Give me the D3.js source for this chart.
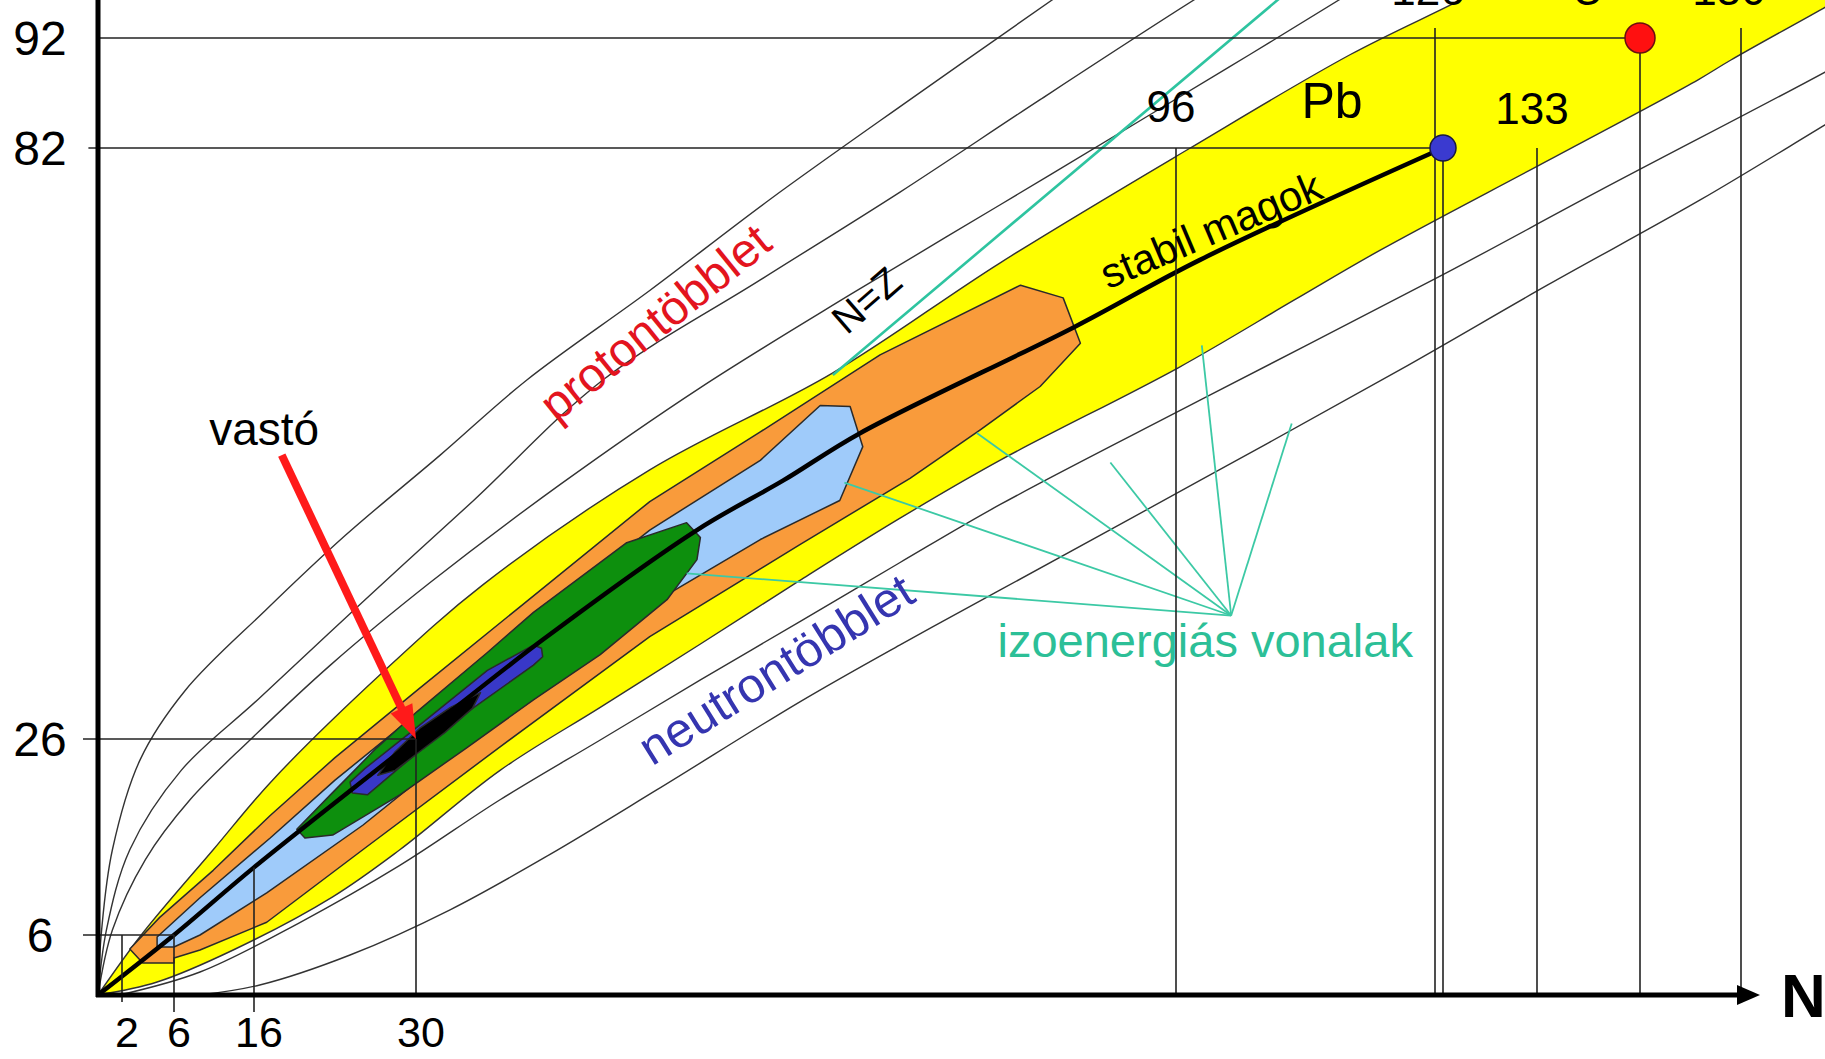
<!DOCTYPE html>
<html><head><meta charset="utf-8">
<script src="https://cdn.jsdelivr.net/npm/d3@7"></script>
<style>html,body{margin:0;padding:0;background:#fff;overflow:hidden}svg{display:block}</style>
</head><body>
<svg id="chart" width="1825" height="1059"></svg>
<script>
// ---- axis knots (neutron number N, proton number Z) ----
const nKnots = [0, 2, 6, 16, 30, 96, 126, 133, 146, 150, 180];
const zKnots = [0, 6, 26, 82, 92, 100];
const nTickLabels = [2, 6, 16, 30];
const zTickLabels = [6, 26, 82, 92];

// ---- marked nuclei ----
const ironPoint = [30, 26];
const leadPoint = [126, 82];
const uraniumPoint = [146, 92];

// ---- valley of stability (N, Z) ----
const stableLine = [[0,0],[6,6],[16,12.9],[30,26],[41.0,35.4],[54.4,45.8],[61.9,50.5],[68.6,55.0],[87.1,65.0],[98.7,71.4],[126,82]];

// ---- energy zones ----
const yellowUpper = [[0,0],[3.6,6.2],[10.9,14.7],[17.6,21.8],[27.1,32.3],[35.8,40.6],[50.3,51.5],[66.2,60.7],[80.7,71.1],[97.6,82],[115.6,90.5],[128.8,96.4],[141.0,102.7]];
const yellowLower = [[0,0],[4.7,1.3],[13.4,4.5],[22.8,9.9],[28.6,14.7],[37.3,22.8],[46.0,29.0],[54.7,35.0],[63.3,41.0],[72.0,46.9],[80.7,52.4],[96.3,61.2],[109.3,67.6],[118.9,72.3],[134.6,80.9],[148.3,88.2],[149.6,90.0],[159.8,94.7],[168.9,98.6]];
const orangeZone = [[2.6,4.6],[4.9,7.8],[10.9,12.6],[17.4,18.2],[23.0,24.1],[30.3,30.8],[39.0,38.5],[50.3,48.5],[59.9,55.1],[70.3,62.4],[82.5,69.0],[86.2,67.8],[87.7,63.5],[84.2,59.4],[79.0,55.3],[72.9,50.7],[63.3,44.4],[50.3,35.7],[37.3,25.2],[25.4,14.7],[17.1,7.3],[9.25,4.5],[6,3.7],[6,3.2],[3.6,3.2]];
const lightBlueZone = [[4.7,4.8],[4.7,5.8],[9.25,9.8],[17.4,15.9],[23.0,21.8],[30.3,28.6],[39.0,36.1],[50.3,45.8],[59.9,52.4],[65.1,57.6],[67.7,57.5],[68.8,53.7],[66.8,48.6],[59.9,44.9],[50.3,38.7],[37.3,28.3],[25.4,17.2],[17.1,10.3],[9.25,6.0],[6,4.8]];
const greenZone = [[19.7,16.8],[22.6,20.3],[26.6,25.1],[30.1,28.6],[36.2,34.2],[40.2,38.0],[48.3,44.6],[53.5,46.5],[54.7,45.1],[54.4,43.0],[51.8,39.2],[46.0,34.0],[40.2,29.7],[34.4,25.1],[28.6,20.3],[22.8,16.2],[20.4,15.9]];
const blueZone = [[24.3,21.6],[25.6,23.0],[29.5,26.6],[36.2,32.5],[40.2,34.9],[40.9,34.6],[41.0,33.8],[40.2,33.0],[34.4,28.5],[30.95,25.4],[28.6,23.1],[25.8,20.3],[24.5,20.5]];
const coreZone = [[26.7,22.3],[28.2,24.7],[30.3,27.0],[33.0,29.0],[35.6,30.4],[34.9,28.9],[32.5,26.6],[30.3,24.7],[28.2,22.8]];

// ---- iso-energy lines ----
const protonSide = [
  [[0,0],[0.3,6.5],[1.2,14.7],[3.4,23.9],[7.4,30.6],[17.0,38.2],[23.9,45.3],[32.1,52.9],[39.6,60.0],[50.3,68.5],[60.7,77.1],[72.9,86.4],[85.3,95.5],[90.3,99.1]],
  [[0,0],[0.7,6.5],[2.6,14.7],[6.9,22.8],[16.3,29.7],[25.6,39.2],[35.0,48.6],[46.2,60.0],[59.9,69.5],[72.0,77.8],[84.2,86.4],[98.1,95.5],[105.4,99.1]],
  [[0,0],[1.2,6.5],[3.8,13.7],[8.0,19.8],[15.5,25.9],[22.6,33.0],[31.2,40.8],[42.5,50.1],[54.7,59.3],[67.7,68.1],[80.7,76.6],[93.7,85.0],[104.3,90.5],[114.4,95.5],[121.2,98.9]]
];
const neutronSide = [
  [[1.8,0],[9.25,2.3],[20.0,7.3],[28.6,13.1],[37.3,19.8],[46.0,25.9],[54.7,31.6],[63.3,37.1],[72.0,42.7],[80.7,48.2],[98.7,58.1],[126.0,70.0],[141.0,78.0],[160.0,88.9],[168.9,92.7]],
  [[9.25,0],[16.5,1.0],[24.3,4.0],[33.0,8.6],[41.6,14.2],[50.9,20.8],[63.3,29.5],[72.0,34.9],[80.7,40.1],[98.7,50.5],[121.2,61.0],[134.3,69.0],[148.4,77.1],[160.0,84.1],[168.9,88.2]]
];

// ---- N=Z line and pointer lines ----
const nzLine = [[66.2,60.5],[108.8,96.4]];
const pointerHub = [102.2, 37.7];
const pointerEnds = [[53.5,41.7],[67.2,50.3],[78.7,55.0],[90.3,52.2],[98.9,63.3],[109.0,55.9]];

// ---- guide lines [N1, Z1, N2, Z2] ----
const hGuides = [[0,92,146,92],[-0.8,82,126,82],[-1.25,26,30,26],[-1.25,6,6,6]];
const vGuides = [[2,6,2,-0.7],[6,6,6,-1.7],[16,12.9,16,-1.7],[30,26,30,0],[96,82,96,0],[126,82,126,0],[133,82,133,0],[146,92,146,0],[150,92.9,150,0]];
const magicLine = [126, 92.9, 126, 0];
const topLabels = ["126", "U", "150"];
const midLabels = ["96", "133"];

const W = 1825, H = 1059;
const FONT = "'Liberation Sans', Arial, Helvetica, sans-serif";
const x = d3.scaleLinear().domain(nKnots).range([98,122,174,254,416,1176,1443,1537,1640,1741,1993]);
const y = d3.scaleLinear().domain(zKnots).range([995,935,739,148,38,-50]);

const svg = d3.select('#chart');
svg.append('rect').attr('width', W).attr('height', H).attr('fill', '#fff');

const smooth = d3.line().x(d => x(d[0])).y(d => y(d[1])).curve(d3.curveCatmullRom.alpha(0.5));
const straight = d3.line().x(d => x(d[0])).y(d => y(d[1]));
const closedPoly = d3.line().x(d => x(d[0])).y(d => y(d[1])).curve(d3.curveLinearClosed);

// yellow band
svg.append('path')
  .attr('d', smooth(yellowUpper.concat(yellowLower.slice().reverse())) + 'Z')
  .attr('fill', '#ffff00');

// iso-energy curves
const contourG = svg.append('g').attr('fill', 'none').attr('stroke', '#333').attr('stroke-width', 1.4);
[...protonSide, ...neutronSide, yellowUpper, yellowLower].forEach(c => {
  contourG.append('path').attr('d', smooth(c));
});

// nested zones
const zones = [
  [orangeZone, '#f99b3b'],
  [lightBlueZone, '#9fcbfa'],
  [greenZone, '#0d8f0d'],
  [blueZone, '#3838c8'],
  [coreZone, '#000']
];
zones.forEach(([pts, col]) => {
  svg.append('path').attr('d', closedPoly(pts))
    .attr('fill', col).attr('stroke', '#2a2a2a').attr('stroke-width', 1.5)
    .attr('stroke-linejoin', 'round');
});

// valley of stability
svg.append('path').attr('d', smooth(stableLine))
  .attr('fill', 'none').attr('stroke', '#000').attr('stroke-width', 4.5);

// N=Z line
svg.append('path').attr('d', straight(nzLine))
  .attr('fill', 'none').attr('stroke', '#2ec4a0').attr('stroke-width', 2.6);

// pointer lines to the iso-energy lines
const ptrG = svg.append('g').attr('stroke', '#3cc9a5').attr('stroke-width', 1.8);
pointerEnds.forEach(p => {
  ptrG.append('line')
    .attr('x1', x(pointerHub[0])).attr('y1', y(pointerHub[1]))
    .attr('x2', x(p[0])).attr('y2', y(p[1]));
});

// guide lines
const guideG = svg.append('g').attr('stroke', '#222').attr('stroke-width', 1.6);
hGuides.concat(vGuides).forEach(g => {
  guideG.append('line')
    .attr('x1', x(g[0])).attr('y1', y(g[1]))
    .attr('x2', x(g[2])).attr('y2', y(g[3]));
});
guideG.append('line')
  .attr('x1', x(magicLine[0]) - 8).attr('y1', y(magicLine[1]))
  .attr('x2', x(magicLine[2]) - 8).attr('y2', y(magicLine[3]));

// axes
const axG = svg.append('g').attr('stroke', '#000').attr('stroke-width', 5);
axG.append('line').attr('x1', x(0)).attr('y1', y(0) + 2).attr('x2', x(0)).attr('y2', 0);
axG.append('line').attr('x1', x(0) - 2).attr('y1', y(0)).attr('x2', x(150)).attr('y2', y(0));
svg.append('path')
  .attr('d', `M${x(150) - 4},${y(0) - 10} L${x(150) + 19},${y(0)} L${x(150) - 4},${y(0) + 10} Z`)
  .attr('fill', '#000');

// nuclei markers
svg.append('circle').attr('cx', x(leadPoint[0])).attr('cy', y(leadPoint[1])).attr('r', 13)
  .attr('fill', '#3a3ad0').attr('stroke', '#1a1a40').attr('stroke-width', 1.5);
svg.append('circle').attr('cx', x(uraniumPoint[0])).attr('cy', y(uraniumPoint[1])).attr('r', 15)
  .attr('fill', '#ff1010').attr('stroke', '#6a1010').attr('stroke-width', 1.5);

// arrow to iron
const tail = [18.4, 52.9];
const tx = x(tail[0]), ty = y(tail[1]), hx = x(ironPoint[0]), hy = y(ironPoint[1]);
const len = Math.hypot(hx - tx, hy - ty), ux = (hx - tx) / len, uy = (hy - ty) / len;
const headL = 34, headW = 12;
svg.append('line').attr('x1', tx).attr('y1', ty)
  .attr('x2', hx - ux * (headL - 4)).attr('y2', hy - uy * (headL - 4))
  .attr('stroke', '#ff1a1a').attr('stroke-width', 8);
svg.append('path')
  .attr('d', `M${hx},${hy} L${hx - ux * headL - uy * headW},${hy - uy * headL + ux * headW} L${hx - ux * headL + uy * headW},${hy - uy * headL - ux * headW} Z`)
  .attr('fill', '#ff1a1a');

// tick labels
const txt = svg.append('g').attr('font-family', FONT);
nTickLabels.forEach(n => {
  txt.append('text').attr('x', x(n) + 5).attr('y', 1047).attr('text-anchor', 'middle')
    .attr('font-size', 43).text(n);
});
zTickLabels.forEach(z => {
  txt.append('text').attr('x', 40).attr('y', y(z) + 17).attr('text-anchor', 'middle')
    .attr('font-size', 48).text(z);
});
txt.append('text').attr('x', 1781).attr('y', 1017).attr('font-size', 62)
  .attr('font-weight', 'bold').text('N');

// labels above the vertical lines
txt.append('text').attr('x', x(96) - 5).attr('y', 122).attr('text-anchor', 'middle').attr('font-size', 44).text(midLabels[0]);
txt.append('text').attr('x', x(133) - 5).attr('y', 124).attr('text-anchor', 'middle').attr('font-size', 44).text(midLabels[1]);
txt.append('text').attr('x', x(126) - 15).attr('y', 5).attr('text-anchor', 'middle').attr('font-size', 44).text(topLabels[0]);
txt.append('text').attr('x', x(uraniumPoint[0]) - 52).attr('y', 5).attr('text-anchor', 'middle').attr('font-size', 44).text(topLabels[1]);
txt.append('text').attr('x', x(150) - 12).attr('y', 5).attr('text-anchor', 'middle').attr('font-size', 44).text(topLabels[2]);
txt.append('text').attr('x', x(leadPoint[0]) - 111).attr('y', 118).attr('text-anchor', 'middle').attr('font-size', 50).text('Pb');

// annotations
const notes = [
  {t: 'vastó', n: 10.4, z: 53.9, c: '#000', a: 0, s: 46},
  {t: 'protontöbblet', n: 42.2, z: 55.9, c: '#e3141e', a: -39, s: 48},
  {t: 'N=Z', n: 67.4, z: 64.2, c: '#000', a: -41, s: 40},
  {t: 'stabil magok', n: 90.1, z: 68.6, c: '#000', a: -23, s: 42},
  {t: 'neutrontöbblet', n: 50.5, z: 23.2, c: '#3535b0', a: -32, s: 49},
  {t: 'izoenergiás vonalak', n: 80.5, z: 33.8, c: '#2cbf97', a: 0, s: 47}
];
notes.forEach(d => {
  txt.append('text')
    .attr('transform', `translate(${x(d.n)},${y(d.z)}) rotate(${d.a})`)
    .attr('fill', d.c).attr('font-size', d.s).text(d.t);
});
</script>
</body></html>
